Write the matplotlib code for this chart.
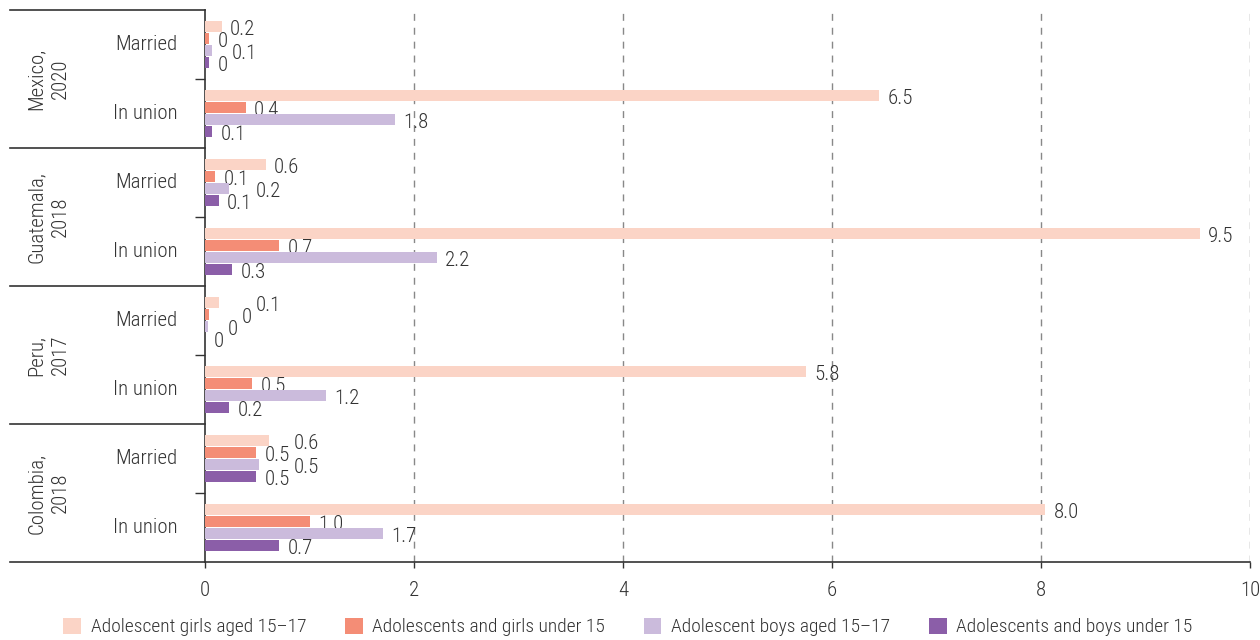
import numpy as np
import matplotlib
matplotlib.use('Agg')
import matplotlib.pyplot as plt
from matplotlib import font_manager
from matplotlib.patches import Patch
import matplotlib.transforms as mtransforms

# data
countries = ['Mexico,\n2020', 'Guatemala,\n2018', 'Peru,\n2017', 'Colombia,\n2018']
statuses = ['Married', 'In union']
series_names = ['Adolescent girls aged 15\u201317', 'Adolescents and girls under 15',
                'Adolescent boys aged 15\u201317', 'Adolescents and boys under 15']
girls_15_17 = [0.16, 6.45, 0.58, 9.52, 0.13, 5.75, 0.61, 8.04]
girls_under_15 = [0.04, 0.39, 0.10, 0.71, 0.04, 0.45, 0.49, 1.00]
boys_15_17 = [0.07, 1.82, 0.23, 2.22, 0.03, 1.16, 0.52, 1.70]
boys_under_15 = [0.04, 0.07, 0.13, 0.26, 0.0, 0.23, 0.49, 0.71]
x_ticks = [0, 2, 4, 6, 8, 10]

colors = ['#fbd4c6', '#f48d76', '#cbbbdc', '#8b5ea8']

# pick a narrow font if there is one
installed = {f.name for f in font_manager.fontManager.ttflist}
family = 'DejaVu Sans'
for cand in ['Roboto Condensed', 'Liberation Sans Narrow', 'Open Sans Condensed', 'Roboto']:
    if cand in installed:
        family = cand
        break
plt.rcParams['font.family'] = [family, 'DejaVu Sans']
plt.rcParams['font.weight'] = 'light'
fs = 15
txt = '#333333'

fig = plt.figure(figsize=(12.6, 6.4), dpi=100)
ax = fig.add_axes([205 / 1260, 78 / 640, 1045 / 1260, 552 / 640])

series = [girls_15_17, girls_under_15, boys_15_17, boys_under_15]
rows = np.arange(len(girls_15_17))
bar_h = 0.175
labels = {}
for j, vals in enumerate(series):
    ypos = rows - 1.5 * bar_h + j * bar_h
    ax.barh(ypos, vals, height=bar_h * 0.96, color=colors[j], zorder=3)
    for r, (y, v) in enumerate(zip(ypos, vals)):
        lab = '0' if round(v, 1) == 0 else f'{v:.1f}'
        labels[(r, j)] = ax.annotate(lab, (v, y), xytext=(6, -2), textcoords='offset points',
                                     ha='left', va='center', fontsize=fs, color=txt)

ax.set_xlim(0, 10)
ax.set_ylim(7.5, -0.5)
ax.set_xticks(x_ticks)
ax.set_xticklabels([str(t) for t in x_ticks], fontsize=fs, color=txt)
ax.tick_params(axis='x', length=4, width=1, color='#333333', pad=10)
ax.set_yticks([0.5, 2.5, 4.5, 6.5])
ax.set_yticklabels([])
ax.tick_params(axis='y', length=7, width=1, color='#333333')
for x in x_ticks[1:]:
    ax.axvline(x, color='#888888', lw=1, ls=(0, (5, 5)), zorder=1)

for s in ['top', 'right']:
    ax.spines[s].set_visible(False)
for s in ['left', 'bottom']:
    ax.spines[s].set_color('#333333')
    ax.spines[s].set_linewidth(1.2)

# left side table
tr = mtransforms.blended_transform_factory(ax.transAxes, ax.transData)
left = -195 / 1045
for yb in [-0.5, 1.5, 3.5, 5.5, 7.5]:
    ax.plot([left, 0], [yb, yb], transform=tr, color='#333333', lw=1.2, clip_on=False)
for g, name in enumerate(countries):
    ax.text(-0.15, 2 * g + 0.5, name, transform=tr, rotation=90, ha='center', va='center',
            multialignment='center', fontsize=fs, color=txt, linespacing=1.35)
for r in rows:
    ax.text(-0.026, r, statuses[r % 2], transform=tr, ha='right', va='center',
            fontsize=fs, color=txt)

handles = [Patch(facecolor=c, edgecolor='none') for c in colors]
fig.legend(handles, series_names, loc='center', bbox_to_anchor=(628 / 1260, 1 - 627 / 640),
           ncol=4, frameon=False, fontsize=14, handlelength=0.9, handleheight=0.9,
           handletextpad=0.5, columnspacing=2.0, labelcolor=txt)

# nudge value labels right when they run into the one below
fig.canvas.draw()
rend = fig.canvas.get_renderer()
for r in rows:
    below = labels[(r, 3)].get_window_extent(rend)
    for j in [2, 1, 0]:
        a = labels[(r, j)]
        bb = a.get_window_extent(rend)
        if bb.x0 < below.x1 + 2 and bb.x1 > below.x0:
            shift = below.x1 + 4 - bb.x0
            ox, oy = a.xyann
            a.xyann = (ox + shift * 72 / fig.dpi, oy)
            fig.canvas.draw()
            bb = a.get_window_extent(rend)
        below = bb

fig.savefig('out.png', dpi=100)
